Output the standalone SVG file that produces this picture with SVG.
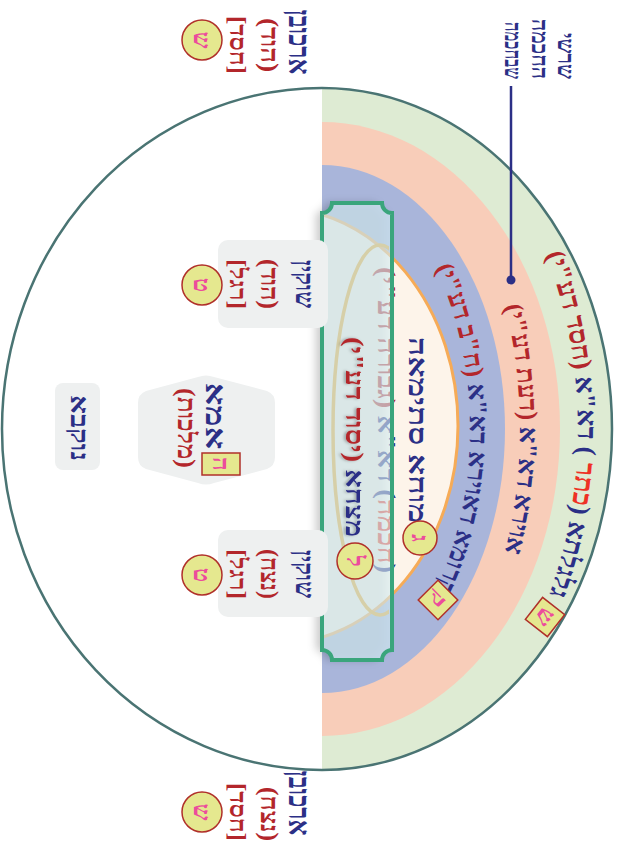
<svg xmlns="http://www.w3.org/2000/svg" width="618" height="851" viewBox="0 0 618 851">
<defs>
<style>
text{font-family:"Liberation Serif","DejaVu Sans",sans-serif;font-weight:bold;}
.nv{fill:#2b2f86}
.rd{fill:#b3262b}
.br{fill:#ee3124}
.gl{fill:#ec4c9c;font-size:24px}
.cb{fill:#e5e88f;stroke:#b0302a;stroke-width:1.5}
.gray{fill:#eef0f0}
</style>
<clipPath id="top"><rect x="0" y="0" width="851" height="296"/></clipPath>
<clipPath id="barc"><rect x="203" y="229" width="457" height="64"/></clipPath>
<filter id="sh" x="-10%" y="-40%" width="120%" height="180%"><feDropShadow dx="0" dy="6" stdDeviation="4" flood-color="#000" flood-opacity="0.35"/></filter>
<filter id="tsh" x="-10%" y="-40%" width="120%" height="180%"><feDropShadow dx="0" dy="2" stdDeviation="1.5" flood-color="#000" flood-opacity="0.3"/></filter>
<path id="pg" d="M 69,296 A 360,256 0 0 1 789,296"/>
<path id="pp" d="M 109,296 A 320,198 0 0 1 749,296"/>
<path id="pb" d="M 179,296 A 250,148 0 0 1 679,296"/>
</defs>
<g transform="translate(618,0) rotate(90)">
<g id="body">
<path d="M 88,296 A 341,320 0 0 0 770,296 Z" fill="#ffffff"/>
<g clip-path="url(#top)">
<ellipse cx="429" cy="296" rx="341" ry="290" fill="#deebd3"/>
<ellipse cx="429" cy="296" rx="307" ry="238" fill="#f8cdb9"/>
<ellipse cx="429" cy="296" rx="264" ry="183" fill="#a9b5da"/>
<ellipse cx="426" cy="340" rx="218" ry="180" fill="#fdf4ea" stroke="#f6ab57" stroke-width="3"/>
</g>
<path d="M 88,296 A 341,290 0 0 1 770,296 A 341,320 0 0 1 88,296 Z" fill="none" stroke="#4a7473" stroke-width="2.5"/>
</g>
<g id="ring-texts" direction="rtl">
<text font-size="27" text-anchor="middle"><textPath href="#pg" startOffset="49.5%"><tspan class="nv">גלגלתא (</tspan><tspan class="br">כתר</tspan><tspan class="nv"> ) דא"א </tspan><tspan class="rd">(חסד דע"י)</tspan></textPath></text>
<text font-size="26" text-anchor="middle"><textPath href="#pp" startOffset="50%"><tspan class="nv">אוירא דא"א </tspan><tspan class="rd">(דעת דע"י)</tspan></textPath></text>
<text font-size="26" text-anchor="middle"><textPath href="#pb" startOffset="50%"><tspan class="nv">קרומא דאוירא דא"א </tspan><tspan class="rd">(ח"ב דע"י)</tspan></textPath></text>
</g>
<g id="ring-marks">
<g transform="translate(617,73) rotate(38)"><rect class="cb" x="-14" y="-14" width="28" height="28"/><text class="gl" x="0" y="8" text-anchor="middle">ש</text></g>
<g transform="translate(600,180) rotate(45)"><rect class="cb" x="-14" y="-14" width="28" height="28"/><text class="gl" x="0" y="8" text-anchor="middle">ק</text></g>
</g>
<g id="inner-texts" direction="rtl">
<text class="nv" x="430" y="209" font-size="26" text-anchor="middle" textLength="186" lengthAdjust="spacingAndGlyphs">מוחא סתימאה</text>
<text x="420" y="240" font-size="26" text-anchor="middle" textLength="306" lengthAdjust="spacingAndGlyphs"><tspan class="nv">(</tspan><tspan class="br">חכמה</tspan><tspan class="nv">) דא"א </tspan><tspan class="rd">(גבורה דע"י)</tspan></text>
<g id="c-cream"><circle class="cb" cx="538" cy="198" r="17"/><text class="gl" x="538" y="206" text-anchor="middle">ג</text></g>
</g>
<g id="bar">
<path d="M 213,226 H 650 A 10,10 0 0 0 660,236 V 286 A 10,10 0 0 0 650,296 H 213 A 10,10 0 0 0 203,286 V 236 A 10,10 0 0 0 213,226 Z" fill="#d6eef4" fill-opacity="0.6" filter="url(#sh)"/>
<ellipse cx="430" cy="238" rx="185" ry="47" fill="none" stroke="#d6cfa8" stroke-width="3.5" clip-path="url(#barc)"/>
<path d="M 213,226 H 650 A 10,10 0 0 0 660,236 V 286 A 10,10 0 0 0 650,296 H 213 A 10,10 0 0 0 203,286 V 236 A 10,10 0 0 0 213,226 Z" fill="none" stroke="#3aa57c" stroke-width="4"/>
<text x="437" y="272" font-size="26" text-anchor="middle" direction="rtl" filter="url(#tsh)" textLength="200" lengthAdjust="spacingAndGlyphs"><tspan class="nv">מצחא </tspan><tspan class="rd">(יסוד דע"י)</tspan></text>
<circle class="cb" cx="561" cy="263" r="18"/><text class="gl" x="561" y="271" text-anchor="middle">ל</text>
</g>
<g id="roots" direction="rtl">
<text class="nv" x="79" y="60" font-size="23" text-anchor="start" textLength="46" lengthAdjust="spacingAndGlyphs">שרשי</text>
<text class="nv" x="79" y="86" font-size="23" text-anchor="start" textLength="60" lengthAdjust="spacingAndGlyphs">החכמה</text>
<text class="nv" x="79" y="113" font-size="23" text-anchor="start" textLength="57" lengthAdjust="spacingAndGlyphs">שבחכמה</text>
</g>
<g id="connectors">
<line x1="86" y1="107" x2="280" y2="107" stroke="#2b2f86" stroke-width="2.5"/>
<circle cx="280" cy="107" r="4.5" fill="#2b2f86"/>
</g>
<g id="outer-left">
<text class="nv" x="42" y="329" font-size="30" text-anchor="middle" textLength="65" lengthAdjust="spacingAndGlyphs">ארכובן</text>
<text class="rd" x="45" y="357" font-size="25" text-anchor="middle" textLength="54" lengthAdjust="spacingAndGlyphs">(הוד)</text>
<text class="rd" x="45" y="388" font-size="24" text-anchor="middle" textLength="58" lengthAdjust="spacingAndGlyphs">[חסד]</text>
<circle class="cb" cx="40" cy="416" r="20"/><text class="gl" x="40" y="424" text-anchor="middle">ש</text>
</g>
<g id="outer-right">
<text class="nv" x="803" y="329" font-size="30" text-anchor="middle" textLength="65" lengthAdjust="spacingAndGlyphs">ארכובן</text>
<text class="rd" x="814" y="357" font-size="25" text-anchor="middle" textLength="54" lengthAdjust="spacingAndGlyphs">(נצח)</text>
<text class="rd" x="812" y="388" font-size="24" text-anchor="middle" textLength="58" lengthAdjust="spacingAndGlyphs">[חסד]</text>
<circle class="cb" cx="812" cy="416" r="20"/><text class="gl" x="812" y="424" text-anchor="middle">ש</text>
</g>
<g id="inner-left">
<rect class="gray" x="240" y="290" width="88" height="110" rx="10"/>
<text class="nv" x="284" y="322" font-size="26" text-anchor="middle" textLength="48" lengthAdjust="spacingAndGlyphs">שוקין</text>
<text class="rd" x="284" y="357" font-size="25" text-anchor="middle" textLength="50" lengthAdjust="spacingAndGlyphs">(הוד)</text>
<text class="rd" x="284" y="388" font-size="24" text-anchor="middle" textLength="50" lengthAdjust="spacingAndGlyphs">[רגל]</text>
<circle class="cb" cx="285" cy="416" r="20"/><text class="gl" x="285" y="424" text-anchor="middle">ט</text>
</g>
<g id="inner-right">
<rect class="gray" x="530" y="290" width="87" height="110" rx="10"/>
<text class="nv" x="574" y="322" font-size="26" text-anchor="middle" textLength="48" lengthAdjust="spacingAndGlyphs">שוקין</text>
<text class="rd" x="574" y="357" font-size="25" text-anchor="middle" textLength="50" lengthAdjust="spacingAndGlyphs">(נצח)</text>
<text class="rd" x="574" y="388" font-size="24" text-anchor="middle" textLength="50" lengthAdjust="spacingAndGlyphs">[רגל]</text>
<circle class="cb" cx="575" cy="416" r="20"/><text class="gl" x="575" y="424" text-anchor="middle">ט</text>
</g>
<g id="center">
<path class="gray" d="M 403,343 L 457,343 Q 466,343 469,351 L 483,404 Q 486,412 483,420 L 469,472 Q 466,480 457,480 L 403,480 Q 394,480 391,472 L 377,420 Q 374,412 377,404 L 391,351 Q 394,343 403,343 Z"/>
<text class="nv" x="416" y="412" font-size="28" text-anchor="middle" textLength="67" lengthAdjust="spacingAndGlyphs">אמא</text>
<rect class="cb" x="453" y="378" width="22" height="38"/><text class="gl" x="464" y="405" text-anchor="middle">ה</text>
<text class="rd" x="428" y="440" font-size="25" text-anchor="middle" textLength="80" lengthAdjust="spacingAndGlyphs">(מלכות)</text>
</g>
<g id="bottom">
<rect class="gray" x="383" y="518" width="87" height="45" rx="8"/>
<text class="nv" x="428" y="547" font-size="25" text-anchor="middle" textLength="66" lengthAdjust="spacingAndGlyphs">נוקבא</text>
</g>
</g>
</svg>
